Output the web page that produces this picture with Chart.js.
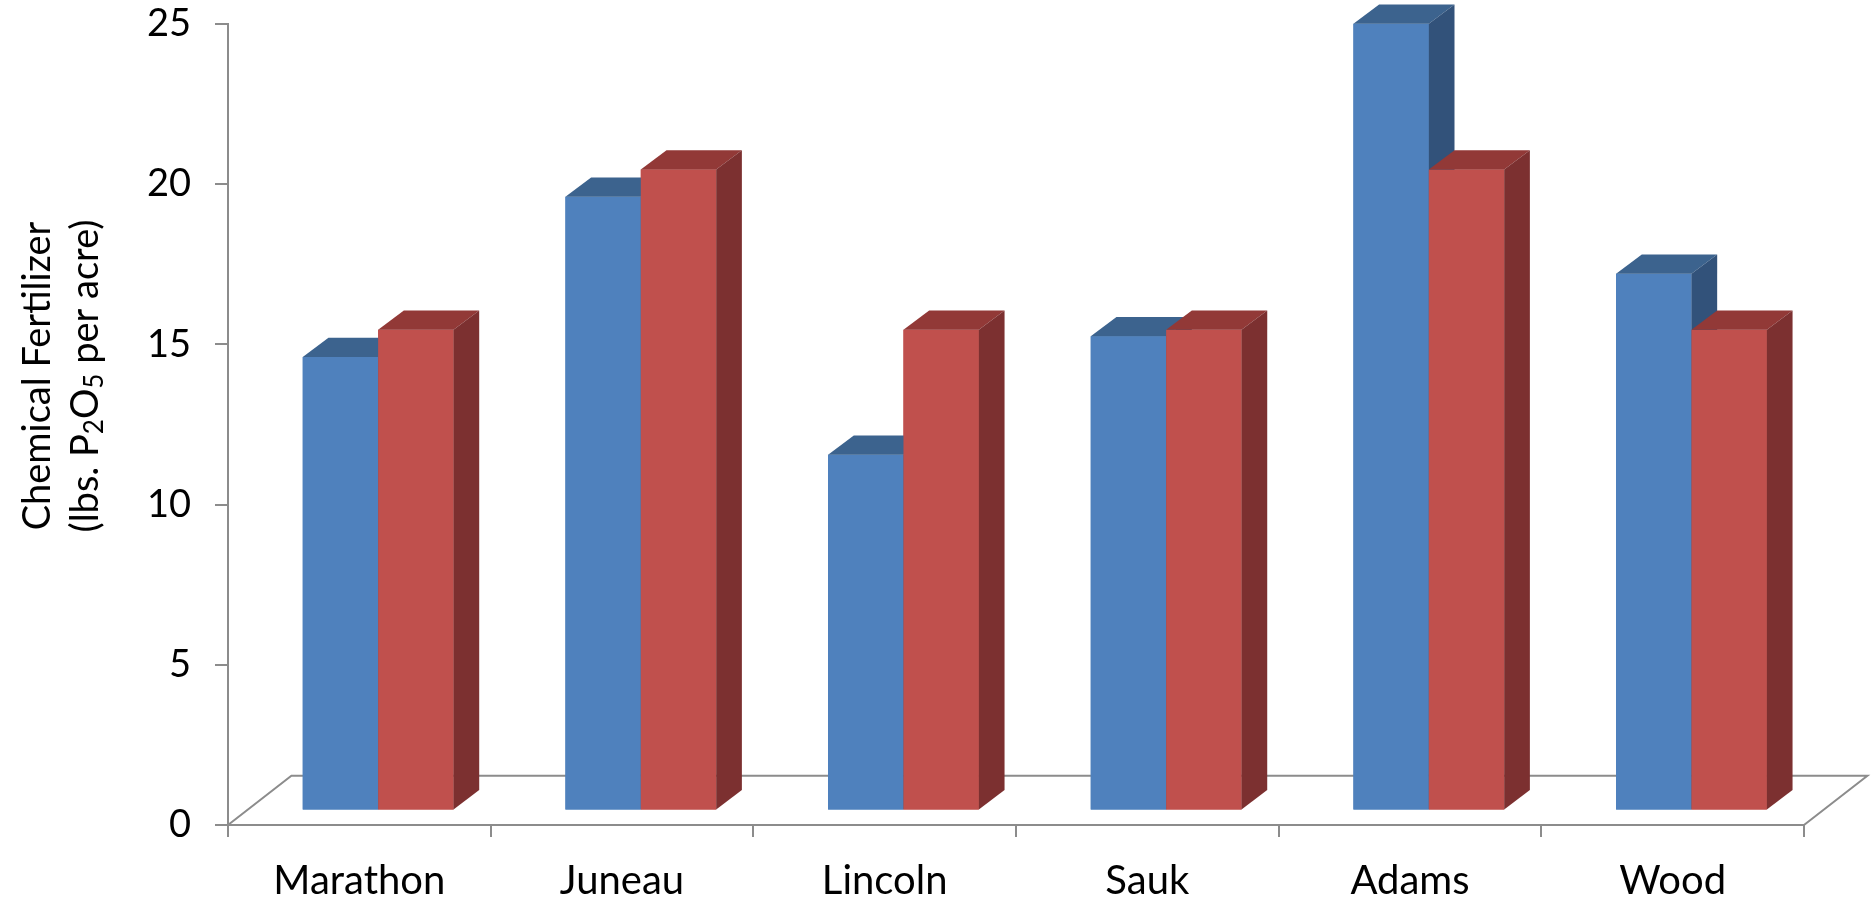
<!DOCTYPE html>
<html>
<head>
<meta charset="utf-8">
<script src="https://cdn.jsdelivr.net/npm/chart.js@4.4.1/dist/chart.umd.min.js"></script>
<style>
  html, body { margin: 0; padding: 0; background: #ffffff; }
  #wrap { width: 1872px; height: 900px; }
</style>
</head>
<body>
<div id="wrap"><canvas id="chart" width="1872" height="900"></canvas></div>
<script>
// County names along the category axis
const counties = ['Marathon', 'Juneau', 'Lincoln', 'Sauk', 'Adams', 'Wood'];
// Phosphate applied, lbs. P2O5 per acre
const blueSeries = [14.15, 19.15, 11.1, 14.8, 24.55, 16.75];
const redSeries = [15, 20, 15, 15, 20, 15];
// Value axis ticks
const yTicks = [0, 5, 10, 15, 20, 25];
// Axis title: first line plain, second line split into [text, isSubscript] runs
const titleLine1 = 'Chemical Fertilizer';
const titleLine2 = [['(lbs. P', false], ['2', true], ['O', false], ['5', true], [' per acre)', false]];

const FONT = 'Lato, "Open Sans", sans-serif';
const AXIS_GREY = '#8C8C8C';

// Oblique projection offsets for the faux 3-D look
const FLOOR = { dx: 63.4, dy: -49.3 };      // full depth of the floor
const BAR_SHIFT = { dx: 18.8, dy: -14.6 };  // where the bar fronts sit inside the floor
const BAR_DEPTH = { dx: 25.7, dy: -19.3 };  // thickness of each bar

const shades = [
  { front: '#4F81BD', top: '#3C638E', side: '#32527A' },
  { front: '#C0504D', top: '#923937', side: '#7C3030' }
];

const prism = {
  id: 'prism',
  beforeDatasetsDraw(chart) {
    const { ctx, chartArea: a, scales: { y } } = chart;
    const y0 = y.getPixelForValue(0);
    // floor outline (front edge is the category axis itself)
    ctx.save();
    ctx.strokeStyle = AXIS_GREY;
    ctx.lineWidth = 2;
    ctx.beginPath();
    ctx.moveTo(a.left, y0);
    ctx.lineTo(a.left + FLOOR.dx, y0 + FLOOR.dy);
    ctx.lineTo(a.right + FLOOR.dx, y0 + FLOOR.dy);
    ctx.lineTo(a.right, y0);
    ctx.stroke();
    ctx.restore();
    // push the bars back into the floor
    ctx.save();
    ctx.translate(BAR_SHIFT.dx, BAR_SHIFT.dy);
  },
  afterDatasetsDraw(chart) {
    // paint each box left to right: front, top, right side
    const ctx = chart.ctx;
    const { dx, dy } = BAR_DEPTH;
    const metas = chart.data.datasets.map((d, i) => chart.getDatasetMeta(i));
    counties.forEach((c, k) => {
      metas.forEach((meta, i) => {
        const bar = meta.data[k];
        const s = shades[i];
        const { x, y, base, width } = bar.getProps(['x', 'y', 'base', 'width'], true);
        const l = x - width / 2, r = x + width / 2;
        bar.draw(ctx);
        ctx.fillStyle = s.top;
        ctx.beginPath();
        ctx.moveTo(l, y); ctx.lineTo(l + dx, y + dy); ctx.lineTo(r + dx, y + dy); ctx.lineTo(r, y);
        ctx.closePath(); ctx.fill();
        ctx.fillStyle = s.side;
        ctx.beginPath();
        ctx.moveTo(r, y); ctx.lineTo(r + dx, y + dy); ctx.lineTo(r + dx, base + dy); ctx.lineTo(r, base);
        ctx.closePath(); ctx.fill();
      });
    });
    ctx.restore();
  },
  afterDraw(chart) {
    // rotated two-line value-axis title with subscripts
    const ctx = chart.ctx;
    const size = 38, sub = 26;
    ctx.save();
    ctx.translate(38, 376);
    ctx.rotate(-Math.PI / 2);
    ctx.fillStyle = '#000';
    ctx.textBaseline = 'middle';
    ctx.textAlign = 'center';
    ctx.font = size + 'px ' + FONT;
    ctx.fillText(titleLine1, 0, 0);
    ctx.textAlign = 'left';
    let total = 0;
    titleLine2.forEach(([t, isSub]) => {
      ctx.font = (isSub ? sub : size) + 'px ' + FONT;
      total += ctx.measureText(t).width;
    });
    let cx = -total / 2;
    titleLine2.forEach(([t, isSub]) => {
      ctx.font = (isSub ? sub : size) + 'px ' + FONT;
      ctx.fillText(t, cx, 48 + (isSub ? 9 : 0));
      cx += ctx.measureText(t).width;
    });
    ctx.restore();
  }
};

new Chart(document.getElementById('chart'), {
  type: 'bar',
  data: {
    labels: counties,
    datasets: [
      { data: blueSeries, backgroundColor: shades[0].front, borderWidth: 0 },
      { data: redSeries, backgroundColor: shades[1].front, borderWidth: 0 }
    ]
  },
  options: {
    responsive: false,
    animation: false,
    layout: { padding: { top: 24, right: 68, left: 0, bottom: 0 } },
    plugins: { legend: { display: false }, tooltip: { enabled: false } },
    datasets: { bar: { categoryPercentage: 0.574, barPercentage: 1, clip: false } },
    scales: {
      x: {
        grid: { drawOnChartArea: false, offset: true, tickLength: 12, color: AXIS_GREY, lineWidth: 2 },
        border: { color: AXIS_GREY, width: 2 },
        ticks: { font: { family: FONT, size: 40 }, color: '#000', padding: 20, maxRotation: 0 },
        afterFit(s) { s.height = 75; s.paddingLeft = 0; s.paddingRight = 0; }
      },
      y: {
        min: 0, max: 25,
        afterBuildTicks(s) { s.ticks = yTicks.map(v => ({ value: v })); },
        grid: { drawOnChartArea: false, tickLength: 13, color: AXIS_GREY, lineWidth: 2 },
        border: { color: AXIS_GREY, width: 2 },
        ticks: { font: { family: FONT, size: 38 }, color: '#000', padding: 24 },
        afterFit(s) { s.width = 228; s.paddingTop = 0; s.paddingBottom = 0; }
      }
    }
  },
  plugins: [prism]
});
</script>
</body>
</html>
